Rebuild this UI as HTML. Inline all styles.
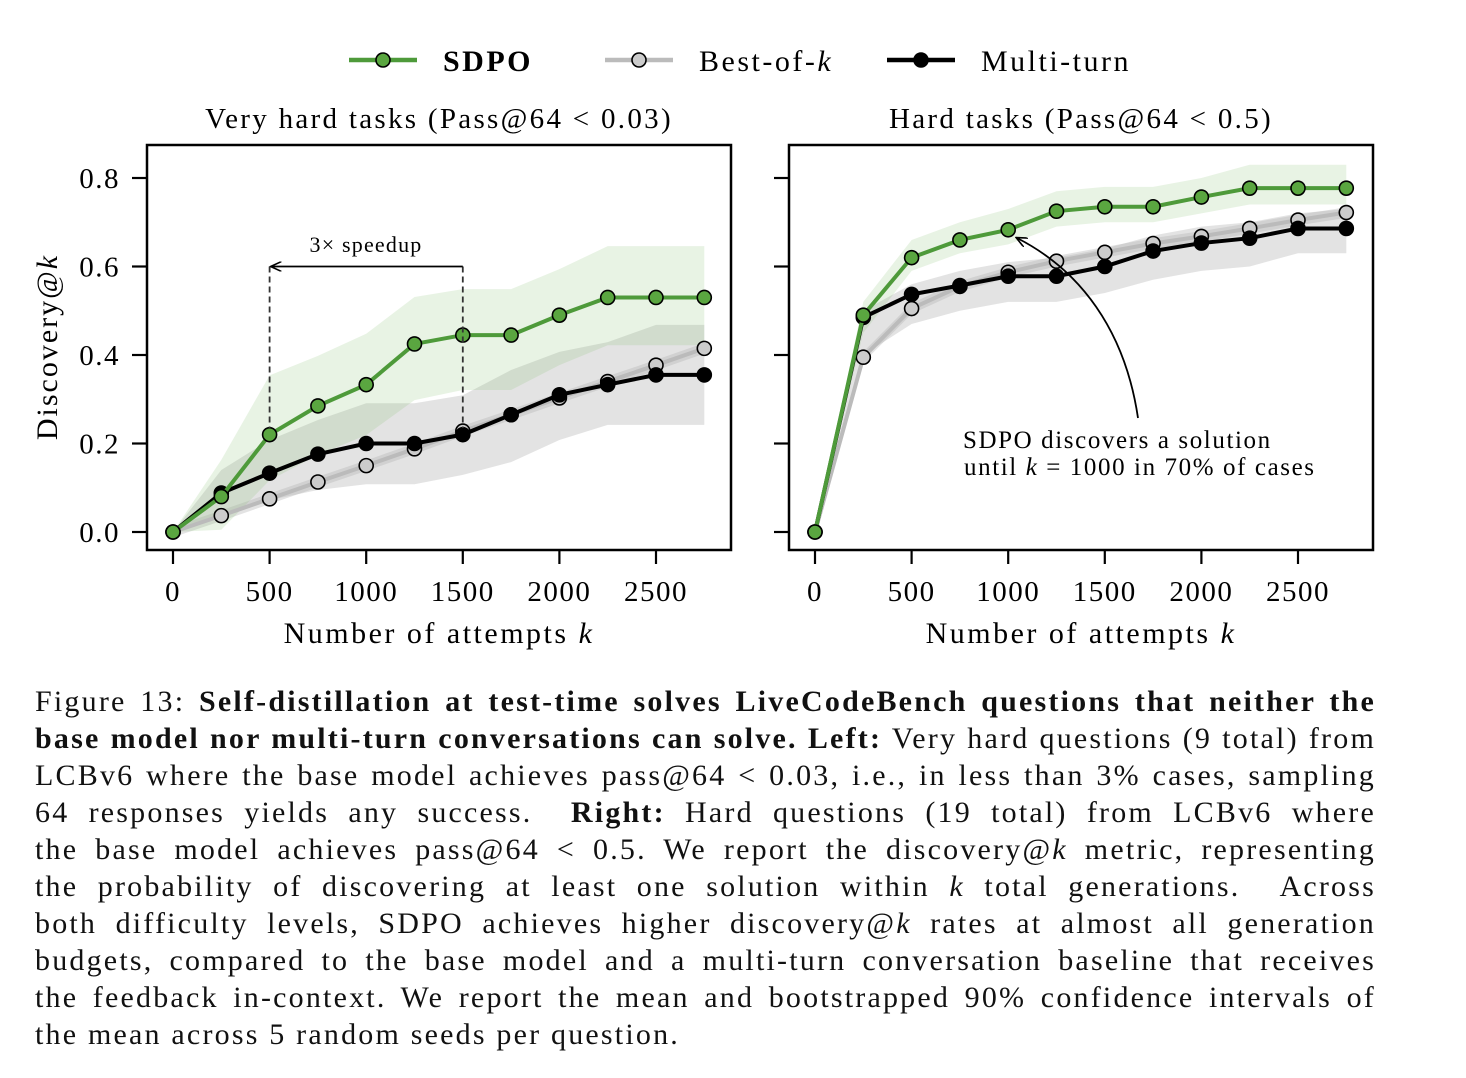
<!DOCTYPE html>
<html><head><meta charset="utf-8">
<style>
body{margin:0;background:#fff;width:1466px;height:1078px;overflow:hidden;font-family:"Liberation Serif",serif;}
#cap{position:absolute;left:35px;top:683px;width:1341px;font-size:30px;letter-spacing:2.2px;line-height:37px;color:#111;}
#cap div{text-align:justify;text-align-last:justify;white-space:nowrap;}
#cap div.last{text-align-last:left;}
</style></head><body>
<svg id="chart" width="1466" height="680" style="position:absolute;left:0;top:0" font-family="Liberation Serif, serif"></svg>
<div id="cap">
<div>Figure 13: <b>Self-distillation at test-time solves LiveCodeBench questions that neither the</b></div>
<div><b>base model nor multi-turn conversations can solve. Left:</b> Very hard questions (9 total) from</div>
<div>LCBv6 where the base model achieves pass@64 &lt; 0.03, i.e., in less than 3% cases, sampling</div>
<div>64 responses yields any success. &nbsp;<b>Right:</b> Hard questions (19 total) from LCBv6 where</div>
<div>the base model achieves pass@64 &lt; 0.5. We report the discovery@<i>k</i> metric, representing</div>
<div>the probability of discovering at least one solution within <i>k</i> total generations. &nbsp;Across</div>
<div>both difficulty levels, SDPO achieves higher discovery@<i>k</i> rates at almost all generation</div>
<div>budgets, compared to the base model and a multi-turn conversation baseline that receives</div>
<div>the feedback in-context. We report the mean and bootstrapped 90% confidence intervals of</div>
<div class="last">the mean across 5 random seeds per question.</div>
</div>
<script>
const ks=[0,250,500,750,1000,1250,1500,1750,2000,2250,2500,2750];
const xTicks=[0,500,1000,1500,2000,2500];
const yTicks=[0.0,0.2,0.4,0.6,0.8];
const L_sdpo=[0,0.08,0.22,0.285,0.333,0.425,0.445,0.445,0.49,0.53,0.53,0.53];
const L_sdpoHi=[0,0.163,0.354,0.398,0.448,0.531,0.549,0.549,0.594,0.646,0.646,0.646];
const L_sdpoLo=[0,0.005,0.117,0.174,0.219,0.298,0.321,0.321,0.377,0.422,0.422,0.422];
const L_best=[0,0.037,0.075,0.113,0.15,0.188,0.228,0.265,0.303,0.34,0.377,0.415];
const L_mt=[0,0.088,0.133,0.176,0.2,0.2,0.22,0.265,0.31,0.333,0.355,0.355];
const L_mtHi=[0,0.14,0.208,0.253,0.291,0.291,0.309,0.366,0.407,0.429,0.468,0.468];
const L_mtLo=[0,0.038,0.072,0.095,0.108,0.108,0.129,0.158,0.208,0.242,0.242,0.242];
const R_sdpo=[0,0.49,0.62,0.66,0.683,0.725,0.735,0.735,0.757,0.777,0.777,0.777];
const R_sdpoHi=[0,0.52,0.66,0.70,0.73,0.77,0.78,0.78,0.80,0.83,0.83,0.83];
const R_sdpoLo=[0,0.45,0.59,0.63,0.65,0.69,0.70,0.70,0.72,0.74,0.74,0.74];
const R_best=[0,0.395,0.505,0.555,0.587,0.612,0.632,0.652,0.668,0.686,0.705,0.722];
const R_mt=[0,0.485,0.537,0.557,0.578,0.578,0.6,0.635,0.653,0.664,0.686,0.686];
const R_mtHi=[0,0.50,0.56,0.59,0.61,0.62,0.64,0.67,0.69,0.70,0.72,0.73];
const R_mtLo=[0,0.40,0.47,0.50,0.52,0.52,0.54,0.57,0.59,0.60,0.63,0.63];

const svg=document.getElementById('chart');
const NS='http://www.w3.org/2000/svg';
function mk(tag,attrs,parent,text){const e=document.createElementNS(NS,tag);for(const k in attrs)e.setAttribute(k,attrs[k]);if(text!==undefined)e.textContent=text;(parent||svg).appendChild(e);return e;}

function panel(x0,name,title,showY,sdpo,sHi,sLo,best,mt,mHi,mLo){
  const X=k=>x0+26+k*0.1932, Y=v=>532-v*442.5;
  const g=mk('g',{});
  
  
  const band=(hi,lo,fill,op,nm)=>{let d='M'+ks.map((k,i)=>X(k)+','+Y(hi[i])).join('L');
    for(let i=ks.length-1;i>=0;i--)d+='L'+X(ks[i])+','+Y(lo[i]);
    const p=mk('path',{d:d+'Z',fill:fill,'fill-opacity':op},g);
    
    };
  band(mHi,mLo,'#b0b0b0',0.35,'multiturn-ci-band');
  band(best.map(v=>v+0.012),best.map(v=>v-0.012),'#b0b0b0',0.35,'bestofk-ci-band');
  band(sHi,sLo,'#8cc47a',0.2,'sdpo-ci-band');
  const line=(vals,col,w,nm)=>{const p=mk('polyline',{points:ks.map((k,i)=>X(k)+','+Y(vals[i])).join(' '),fill:'none',stroke:col,'stroke-width':w},g);
    
    
    ks.forEach((k,i)=>{const c=mk('circle',{cx:X(k),cy:Y(vals[i]),r:7,fill:col==='#000'?'#000':(col==='#bbb'?'#ccc':'#5aa640'),stroke:'#000','stroke-width':1.6},g);
      
      });};
  line(best,'#bbb',4,'bestofk');
  line(mt,'#000',4,'multiturn');
  line(sdpo,'#4e9a3a',4,'sdpo');
  const f=mk('rect',{x:x0,y:145,width:584,height:405,fill:'none',stroke:'#000','stroke-width':2.5},g);
  
  
  xTicks.forEach(t=>{mk('line',{x1:X(t),x2:X(t),y1:550,y2:564,stroke:'#000','stroke-width':2.2},g);
    const tx=mk('text',{x:X(t),y:601,'font-size':29,'text-anchor':'middle','letter-spacing':1.5},g,String(t));
    
    });
  yTicks.forEach(t=>{mk('line',{x1:x0-15,x2:x0,y1:Y(t),y2:Y(t),stroke:'#000','stroke-width':2.2},g);
    if(showY){const tx=mk('text',{x:x0-27,y:Y(t)+10,'font-size':29,'text-anchor':'end','letter-spacing':1.5},g,t.toFixed(1));
      
      }});
  const xt=mk('text',{x:x0+292,y:643,'font-size':30,'text-anchor':'middle','letter-spacing':2.5},g);
  xt.innerHTML='Number of attempts <tspan font-style="italic">k</tspan>';
  
  
  const tt=mk('text',{x:x0+292,y:128,'font-size':29,'text-anchor':'middle','letter-spacing':2.3},g,title);
  
  
  return {X,Y,g};
}
const P1=panel(147,'left-panel','Very hard tasks (Pass@64 < 0.03)',true,L_sdpo,L_sdpoHi,L_sdpoLo,L_best,L_mt,L_mtHi,L_mtLo);
const P2=panel(789,'right-panel','Hard tasks (Pass@64 < 0.5)',false,R_sdpo,R_sdpoHi,R_sdpoLo,R_best,R_mt,R_mtHi,R_mtLo);

const yl=mk('text',{x:0,y:0,'font-size':30,'text-anchor':'middle','letter-spacing':2,transform:'translate(57,347) rotate(-90)'});
yl.innerHTML='Discovery@<tspan font-style="italic">k</tspan>';



mk('defs',{}).innerHTML='<marker id="ah" markerWidth="12" markerHeight="10" refX="10" refY="5" orient="auto" markerUnits="userSpaceOnUse"><path d="M0,0 L11,5 L0,10" fill="none" stroke="#000" stroke-width="1.6"/></marker>';
const ann=mk('g',{});


mk('line',{x1:P1.X(500),x2:P1.X(500),y1:P1.Y(0.6),y2:P1.Y(0.235),stroke:'#333','stroke-width':1.8,'stroke-dasharray':'6,4'},ann);
mk('line',{x1:P1.X(1500),x2:P1.X(1500),y1:P1.Y(0.6),y2:P1.Y(0.235),stroke:'#333','stroke-width':1.8,'stroke-dasharray':'6,4'},ann);
mk('line',{x1:P1.X(1500),x2:P1.X(500)+2,y1:P1.Y(0.6),y2:P1.Y(0.6),stroke:'#000','stroke-width':1.8,'marker-end':'url(#ah)'},ann);
mk('text',{x:366,y:252,'font-size':22,'text-anchor':'middle','letter-spacing':1.2},ann,'3× speedup');

const ann2=mk('g',{});


mk('path',{d:'M1138,418 C1125,330 1080,270 1017,238',fill:'none',stroke:'#000','stroke-width':1.8,'marker-end':'url(#ah)'},ann2);
mk('text',{x:963,y:448,'font-size':25,'letter-spacing':1.6},ann2,'SDPO discovers a solution');
const t2=mk('text',{x:964,y:475,'font-size':25,'letter-spacing':1.6},ann2);
t2.innerHTML='until <tspan font-style="italic">k</tspan> = 1000 in 70% of cases';

const lg=mk('g',{});


[[349,'#4e9a3a','#5aa640','SDPO',true],[605,'#bbb','#ccc','Best-of-',false],[887,'#000','#000','Multi-turn',false]].forEach(([x,c,f,l,b],i)=>{
  const e=mk('g',{},lg);
  
  
  mk('line',{x1:x,x2:x+68,y1:60,y2:60,stroke:c,'stroke-width':4.5},e);
  mk('circle',{cx:x+34,cy:60,r:7,fill:f,stroke:'#000','stroke-width':1.6},e);
  const t=mk('text',{x:x+94,y:71,'font-size':30,'font-weight':b?'bold':'normal','letter-spacing':2.5},e,l);
  if(i===1)t.innerHTML='Best-of-<tspan font-style="italic">k</tspan>';
});
</script>
</body></html>
